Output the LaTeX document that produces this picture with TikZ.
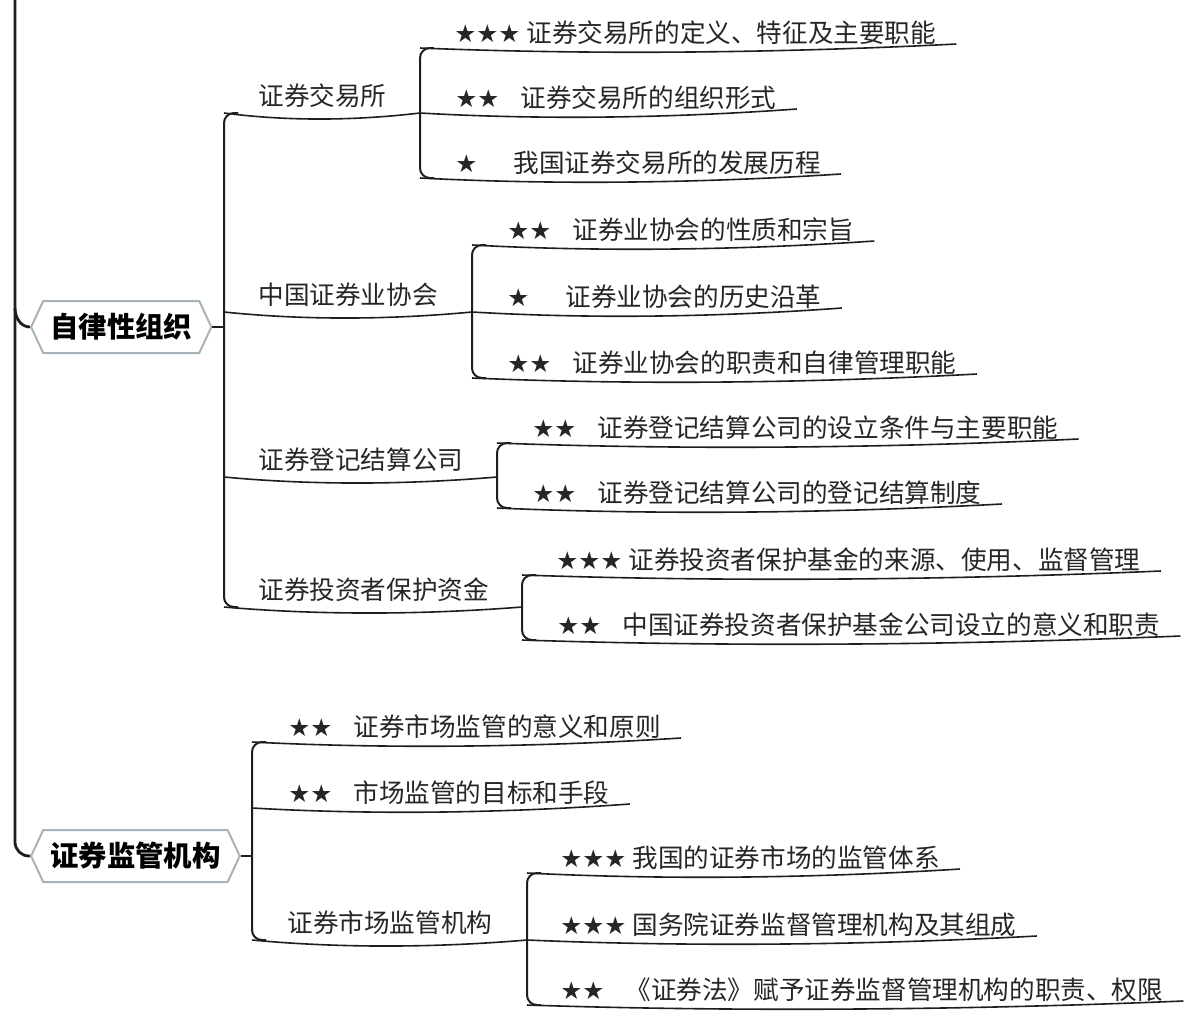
\documentclass[tikz,border=0pt]{standalone}
\usepackage{fontspec}
\setmainfont{Noto Sans CJK SC}
\newfontfamily\starfont{DejaVu Sans}
\usetikzlibrary{shapes.symbols, calc}
\definecolor{inkline}{HTML}{1E1E1E}
\definecolor{hexedge}{HTML}{A7B3BB}
\definecolor{txtgray}{HTML}{262626}
\newcommand{\stars}[2][32.5pt]{\makebox[#1][l]{\starfont\fontsize{12.3}{13}\selectfont #2}}

\begin{document}
\begin{tikzpicture}[
  x=0.5pt, y=-0.5pt,
  maintopic/.style={
    signal, signal to=east and west, signal pointer angle=130,
    draw=hexedge, line width=1pt, fill=white, anchor=west,
    minimum height=26pt, inner xsep=3.5pt, inner ysep=2pt,
    font=\fontsize{14.2}{16}\selectfont\bfseries, text=black
  },
  subtopic/.style={anchor=base west, inner sep=0pt,
    font=\fontsize{12.8}{15}\selectfont, text=txtgray},
  leaf/.style={anchor=base west, inner sep=0pt,
    font=\fontsize{12.8}{15}\selectfont, text=txtgray},
  brk/.style={inkline, line width=1pt, rounded corners=5pt},
  spine/.style={inkline, line width=1.4pt},
  uline/.style={inkline, line width=0.8pt,
    to path={.. controls ($(\tikztostart)!0.35!(\tikztotarget)+(0,9)$)
      and ($(\tikztostart)!0.7!(\tikztotarget)+(0,7)$) .. (\tikztotarget)}},
]

% Background
\useasboundingbox (0,0) rectangle (1188,1018);
\fill[white] (0,0) rectangle (1188,1018);

% =============================================
% Main topics and spine
% =============================================
\node[maintopic] (m1) at (30,327) {自律性组织};
\node[maintopic] (m2) at (30,856) {证券监管机构};

\coordinate (spinetop) at (15,-4);
\coordinate (spinefork) at (15,308);
\draw[spine, rounded corners=7pt] (spinetop) |- (m2.west);
\draw[spine] (spinefork) to[out=-90, in=180] (m1.west);

% =============================================
% 自律性组织
% =============================================
\coordinate (s1) at (224,113);
\coordinate (s2) at (224,312);
\coordinate (s3) at (224,477);
\coordinate (s4) at (224,607);
\draw[brk] (m1.east) -- (m1.east -| s1);
\draw[brk] ($(s1)+(14,0)$) -- (s1) -- (s4) -- ($(s4)+(14,0)$);

\node[subtopic] (s1t) at ($(s1)+(34,-8)$) {证券交易所};
\node[subtopic] (s2t) at ($(s2)+(34,-8)$) {中国证券业协会};
\node[subtopic] (s3t) at ($(s3)+(34,-8)$) {证券登记结算公司};
\node[subtopic] (s4t) at ($(s4)+(34,-8)$) {证券投资者保护资金};

% second level brackets
\coordinate (c1) at (420,113);
\coordinate (c2) at (472,312);
\coordinate (c3) at (497,477);
\coordinate (c4) at (522,607);
\draw[uline] (s1) to (c1);
\draw[uline] (s2) to (c2);
\draw[uline] (s3) to (c3);
\draw[uline] (s4) to (c4);

% 证券交易所
\coordinate (c1a) at (420,48);
\coordinate (c1c) at (420,178);
\draw[brk] ($(c1a)+(14,0)$) -- (c1a) -- (c1c) -- ($(c1c)+(14,0)$);
\node[leaf] (l1a) at ($(c1a)+(34,-6)$) {\stars[36pt]{★★★}证券交易所的定义、特征及主要职能};
\node[leaf] (l1b) at ($(c1)+(35,-6)$) {\stars{★★}证券交易所的组织形式};
\node[leaf] (l1c) at ($(c1c)+(35,-6)$) {\stars[29pt]{★}我国证券交易所的发展历程};
\draw[uline] (c1a) to ($(l1a.base east)+(20,2)$);
\draw[uline] (c1) to ($(l1b.base east)+(20,2)$);
\draw[uline] (c1c) to ($(l1c.base east)+(20,2)$);

% 中国证券业协会
\coordinate (c2a) at (472,245);
\coordinate (c2c) at (472,378);
\draw[brk] ($(c2a)+(14,0)$) -- (c2a) -- (c2c) -- ($(c2c)+(14,0)$);
\node[leaf] (l2a) at ($(c2a)+(35,-6)$) {\stars{★★}证券业协会的性质和宗旨};
\node[leaf] (l2b) at ($(c2)+(35,-6)$) {\stars[29pt]{★}证券业协会的历史沿革};
\node[leaf] (l2c) at ($(c2c)+(35,-6)$) {\stars{★★}证券业协会的职责和自律管理职能};
\draw[uline] (c2a) to ($(l2a.base east)+(20,2)$);
\draw[uline] (c2) to ($(l2b.base east)+(20,2)$);
\draw[uline] (c2c) to ($(l2c.base east)+(20,2)$);

% 证券登记结算公司
\coordinate (c3a) at (497,443);
\coordinate (c3b) at (497,508);
\draw[brk] ($(c3a)+(14,0)$) -- (c3a) -- (c3b) -- ($(c3b)+(14,0)$);
\node[leaf] (l3a) at ($(c3a)+(35,-6)$) {\stars{★★}证券登记结算公司的设立条件与主要职能};
\node[leaf] (l3b) at ($(c3b)+(35,-6)$) {\stars{★★}证券登记结算公司的登记结算制度};
\draw[uline] (c3a) to ($(l3a.base east)+(20,2)$);
\draw[uline] (c3b) to ($(l3b.base east)+(20,2)$);

% 证券投资者保护资金
\coordinate (c4a) at (522,575);
\coordinate (c4b) at (522,640);
\draw[brk] ($(c4a)+(14,0)$) -- (c4a) -- (c4b) -- ($(c4b)+(14,0)$);
\node[leaf] (l4a) at ($(c4a)+(34,-6)$) {\stars[36pt]{★★★}证券投资者保护基金的来源、使用、监督管理};
\node[leaf] (l4b) at ($(c4b)+(35,-6)$) {\stars{★★}中国证券投资者保护基金公司设立的意义和职责};
\draw[uline] (c4a) to ($(l4a.base east)+(20,2)$);
\draw[uline] (c4b) to ($(l4b.base east)+(20,2)$);

% =============================================
% 证券监管机构
% =============================================
\coordinate (k1) at (252,742);
\coordinate (k2) at (252,808);
\coordinate (s5) at (252,940);
\draw[brk] (m2.east) -- (m2.east -| s5);
\draw[brk] ($(k1)+(14,0)$) -- (k1) -- (s5) -- ($(s5)+(14,0)$);

\node[leaf] (k1t) at ($(k1)+(36,-6)$) {\stars{★★}证券市场监管的意义和原则};
\node[leaf] (k2t) at ($(k2)+(36,-6)$) {\stars{★★}市场监管的目标和手段};
\draw[uline] (k1) to ($(k1t.base east)+(20,2)$);
\draw[uline] (k2) to ($(k2t.base east)+(20,2)$);

\node[subtopic] (s5t) at ($(s5)+(35,-8)$) {证券市场监管机构};
\coordinate (c5) at (527,940);
\draw[uline] (s5) to (c5);

% 证券市场监管机构
\coordinate (c5a) at (527,873);
\coordinate (c5c) at (527,1005);
\draw[brk] ($(c5a)+(14,0)$) -- (c5a) -- (c5c) -- ($(c5c)+(14,0)$);
\node[leaf] (l5a) at ($(c5a)+(33,-6)$) {\stars[36pt]{★★★}我国的证券市场的监管体系};
\node[leaf] (l5b) at ($(c5)+(33,-6)$) {\stars[36pt]{★★★}国务院证券监督管理机构及其组成};
\node[leaf] (l5c) at ($(c5c)+(33,-6)$) {\stars{★★}《证券法》赋予证券监督管理机构的职责、权限};
\draw[uline] (c5a) to ($(l5a.base east)+(20,2)$);
\draw[uline] (c5) to ($(l5b.base east)+(20,2)$);
\draw[uline] (c5c) to ($(l5c.base east)+(20,2)$);

\end{tikzpicture}
\end{document}
